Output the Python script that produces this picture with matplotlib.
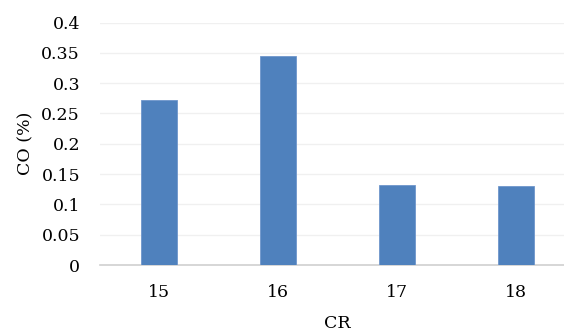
import matplotlib
matplotlib.use("Agg")
import matplotlib.pyplot as plt

cr_labels = ["15", "16", "17", "18"]
co_percent = [0.272, 0.345, 0.132, 0.131]
y_ticks = [0, 0.05, 0.1, 0.15, 0.2, 0.25, 0.3, 0.35, 0.4]
y_tick_labels = ["0", "0.05", "0.1", "0.15", "0.2", "0.25", "0.3", "0.35", "0.4"]

plt.rcParams["font.family"] = ["DejaVu Serif"]

W, H = 564, 334
fig = plt.figure(figsize=(W / 100, H / 100), dpi=100)
left, right = 99.5, 575.5
bottom, top = 265, 22.5
ax = fig.add_axes([left / W, 1 - bottom / H, (right - left) / W, (bottom - top) / H])

x = list(range(len(cr_labels)))
ax.bar(x, co_percent, width=0.31, color="#4f81bd", edgecolor="#6f96cc", linewidth=0.6, zorder=3)

ax.set_xlim(-0.5, len(cr_labels) - 0.5)
ax.set_ylim(0, 0.4)
ax.set_yticks(y_ticks)
ax.set_yticklabels(y_tick_labels)
ax.set_xticks(x)
ax.set_xticklabels(cr_labels)

ax.grid(axis="y", color="#f0f0f0", linewidth=1.0, zorder=0)
for side in ["top", "right", "left"]:
    ax.spines[side].set_visible(False)
ax.spines["bottom"].set_color("#d0d0d0")
ax.spines["bottom"].set_linewidth(1.2)
ax.tick_params(axis="both", length=0, labelsize=12.5, colors="#000000")
ax.tick_params(axis="y", pad=14)
ax.tick_params(axis="x", pad=14)

ax.set_xlabel("CR", fontsize=12.5, labelpad=10)
ax.set_ylabel("CO (%)", fontsize=12.5, labelpad=5)

fig.savefig("out.png", dpi=100)
